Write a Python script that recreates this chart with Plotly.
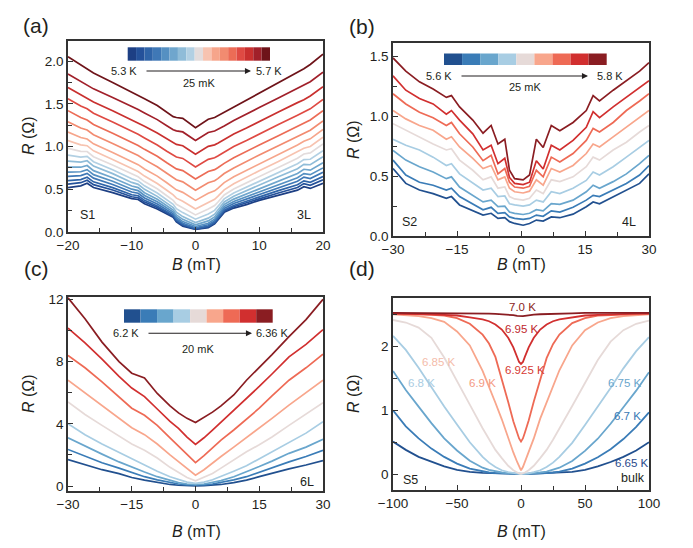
import plotly.graph_objects as go

W, H = 693, 548
FONT = "Liberation Sans, Arial, Helvetica, sans-serif"
INK = "#231f20"
AXC = "#333333"

# ---------------- panel (a) : sample S1, 3L ----------------
B_a = [-20, -18, -17, -16, -13, -10, -9, -8, -6, -4.5, -3.5, -3, -2, 0,
       2, 3, 3.5, 4.5, 6, 8, 10, 13, 16, 17, 18, 20]
T_a = [5.300, 5.325, 5.350, 5.375, 5.400, 5.425, 5.450, 5.475, 5.500,
       5.525, 5.550, 5.575, 5.600, 5.625, 5.650, 5.675, 5.700]
a_5300 = [0.52, 0.54, 0.57, 0.52, 0.46, 0.39, 0.38, 0.33, 0.27, 0.21, 0.172, 0.118, 0.069, 0.03, 0.052, 0.095, 0.138, 0.23, 0.28, 0.32, 0.37, 0.43, 0.49, 0.53, 0.51, 0.57]
a_5325 = [0.56, 0.577, 0.606, 0.554, 0.491, 0.412, 0.401, 0.35, 0.288, 0.225, 0.184, 0.128, 0.078, 0.035, 0.06, 0.105, 0.149, 0.243, 0.295, 0.341, 0.393, 0.457, 0.521, 0.566, 0.546, 0.61]
a_5350 = [0.60, 0.613, 0.641, 0.587, 0.519, 0.436, 0.424, 0.37, 0.304, 0.239, 0.195, 0.139, 0.088, 0.04, 0.069, 0.114, 0.16, 0.256, 0.31, 0.36, 0.415, 0.484, 0.553, 0.599, 0.581, 0.65]
a_5375 = [0.65, 0.66, 0.686, 0.63, 0.556, 0.468, 0.454, 0.398, 0.328, 0.259, 0.212, 0.155, 0.103, 0.05, 0.084, 0.13, 0.176, 0.275, 0.333, 0.385, 0.445, 0.519, 0.594, 0.642, 0.626, 0.70]
a_5400 = [0.70, 0.705, 0.729, 0.671, 0.593, 0.501, 0.484, 0.427, 0.353, 0.281, 0.233, 0.175, 0.122, 0.065, 0.103, 0.15, 0.197, 0.297, 0.357, 0.413, 0.476, 0.555, 0.635, 0.684, 0.671, 0.75]
a_5425 = [0.76, 0.758, 0.778, 0.718, 0.635, 0.538, 0.519, 0.46, 0.383, 0.308, 0.257, 0.20, 0.148, 0.085, 0.13, 0.176, 0.222, 0.322, 0.385, 0.445, 0.513, 0.598, 0.684, 0.734, 0.724, 0.81]
a_5450 = [0.83, 0.818, 0.834, 0.772, 0.683, 0.58, 0.558, 0.499, 0.417, 0.339, 0.286, 0.231, 0.18, 0.11, 0.162, 0.208, 0.253, 0.352, 0.418, 0.483, 0.555, 0.647, 0.74, 0.791, 0.787, 0.88]
a_5475 = [0.90, 0.876, 0.884, 0.822, 0.729, 0.623, 0.598, 0.54, 0.457, 0.377, 0.324, 0.273, 0.227, 0.15, 0.211, 0.253, 0.296, 0.388, 0.457, 0.524, 0.60, 0.699, 0.798, 0.847, 0.851, 0.95]
a_5500 = [0.98, 0.943, 0.942, 0.881, 0.783, 0.675, 0.647, 0.59, 0.505, 0.424, 0.37, 0.325, 0.284, 0.20, 0.27, 0.309, 0.348, 0.434, 0.504, 0.575, 0.654, 0.759, 0.864, 0.913, 0.925, 1.03]
a_5525 = [1.07, 1.019, 1.01, 0.95, 0.849, 0.74, 0.708, 0.654, 0.568, 0.488, 0.434, 0.396, 0.36, 0.27, 0.347, 0.382, 0.416, 0.493, 0.564, 0.636, 0.717, 0.826, 0.935, 0.98, 1.001, 1.11]
a_5550 = [1.17, 1.106, 1.088, 1.032, 0.93, 0.822, 0.788, 0.738, 0.654, 0.576, 0.524, 0.493, 0.464, 0.37, 0.453, 0.482, 0.511, 0.578, 0.646, 0.719, 0.80, 0.91, 1.019, 1.061, 1.09, 1.20]
a_5575 = [1.29, 1.217, 1.193, 1.139, 1.036, 0.93, 0.894, 0.847, 0.764, 0.688, 0.637, 0.611, 0.587, 0.49, 0.576, 0.60, 0.625, 0.684, 0.75, 0.821, 0.901, 1.01, 1.119, 1.157, 1.191, 1.30]
a_5600 = [1.42, 1.339, 1.31, 1.258, 1.155, 1.049, 1.012, 0.967, 0.886, 0.81, 0.76, 0.739, 0.719, 0.62, 0.708, 0.73, 0.752, 0.803, 0.868, 0.939, 1.018, 1.127, 1.237, 1.273, 1.311, 1.42]
a_5625 = [1.56, 1.474, 1.442, 1.39, 1.287, 1.182, 1.144, 1.101, 1.019, 0.946, 0.896, 0.878, 0.861, 0.76, 0.85, 0.869, 0.889, 0.936, 1.0, 1.07, 1.149, 1.258, 1.366, 1.40, 1.441, 1.55]
a_5650 = [1.69, 1.603, 1.568, 1.52, 1.419, 1.316, 1.279, 1.238, 1.159, 1.087, 1.04, 1.025, 1.009, 0.91, 1.002, 1.02, 1.038, 1.082, 1.146, 1.217, 1.295, 1.405, 1.514, 1.547, 1.591, 1.70]
a_5675 = [1.85, 1.759, 1.721, 1.675, 1.573, 1.471, 1.433, 1.393, 1.315, 1.244, 1.197, 1.184, 1.171, 1.07, 1.165, 1.182, 1.199, 1.24, 1.304, 1.376, 1.456, 1.568, 1.68, 1.712, 1.759, 1.87]
a_5700 = [2.05, 1.95, 1.91, 1.86, 1.75, 1.64, 1.60, 1.56, 1.48, 1.40, 1.35, 1.34, 1.33, 1.22, 1.32, 1.34, 1.36, 1.40, 1.47, 1.55, 1.63, 1.75, 1.87, 1.91, 1.96, 2.08]
R_a = [a_5300, a_5325, a_5350, a_5375, a_5400, a_5425, a_5450, a_5475, a_5500,
       a_5525, a_5550, a_5575, a_5600, a_5625, a_5650, a_5675, a_5700]

# ---------------- panel (b) : sample S2, 4L ----------------
B_b = [-30, -27, -23.8, -20.6, -17.5, -16.3, -14.4, -11.3, -8.9, -7, -5.4, -3.8, -2.7, -1.5,
       0.5, 2, 3.6, 5.2, 7.1, 9.1, 12.2, 15.3, 16.9, 18.4, 21.6, 24.7, 27.8, 30]
T_b = [5.600, 5.625, 5.650, 5.675, 5.700, 5.725, 5.750, 5.775, 5.800]
b_5600 = [0.565, 0.44, 0.385, 0.355, 0.315, 0.33, 0.26, 0.215, 0.175, 0.19, 0.147, 0.153, 0.12, 0.105, 0.09, 0.105, 0.133, 0.125, 0.16, 0.153, 0.183, 0.245, 0.285, 0.27, 0.33, 0.385, 0.44, 0.52]
b_5625 = [0.635, 0.51, 0.45, 0.425, 0.385, 0.40, 0.33, 0.27, 0.22, 0.24, 0.19, 0.195, 0.16, 0.147, 0.14, 0.147, 0.175, 0.165, 0.21, 0.20, 0.24, 0.30, 0.34, 0.33, 0.385, 0.44, 0.51, 0.59]
b_5650 = [0.715, 0.635, 0.58, 0.535, 0.48, 0.495, 0.41, 0.34, 0.285, 0.30, 0.245, 0.25, 0.20, 0.19, 0.18, 0.19, 0.22, 0.21, 0.27, 0.265, 0.30, 0.37, 0.425, 0.40, 0.455, 0.52, 0.605, 0.675]
b_5675 = [0.81, 0.76, 0.72, 0.66, 0.59, 0.605, 0.52, 0.44, 0.385, 0.40, 0.33, 0.335, 0.27, 0.26, 0.25, 0.26, 0.30, 0.285, 0.37, 0.355, 0.40, 0.465, 0.535, 0.51, 0.58, 0.66, 0.745, 0.80]
b_5700 = [0.94, 0.885, 0.83, 0.77, 0.72, 0.73, 0.635, 0.55, 0.47, 0.495, 0.40, 0.41, 0.33, 0.31, 0.30, 0.315, 0.385, 0.355, 0.47, 0.455, 0.495, 0.58, 0.66, 0.635, 0.72, 0.785, 0.87, 0.925]
b_5725 = [1.05, 0.98, 0.925, 0.885, 0.81, 0.83, 0.745, 0.65, 0.565, 0.59, 0.47, 0.495, 0.40, 0.37, 0.36, 0.375, 0.47, 0.425, 0.565, 0.535, 0.59, 0.69, 0.77, 0.745, 0.83, 0.91, 0.995, 1.05]
b_5750 = [1.19, 1.105, 1.035, 0.99, 0.925, 0.95, 0.855, 0.745, 0.63, 0.675, 0.52, 0.565, 0.45, 0.41, 0.40, 0.415, 0.55, 0.495, 0.66, 0.62, 0.69, 0.80, 0.90, 0.87, 0.95, 1.05, 1.13, 1.19]
b_5775 = [1.34, 1.22, 1.15, 1.105, 1.02, 1.05, 0.97, 0.855, 0.72, 0.76, 0.605, 0.65, 0.49, 0.44, 0.43, 0.45, 0.63, 0.56, 0.76, 0.72, 0.80, 0.91, 1.04, 0.99, 1.08, 1.16, 1.245, 1.30]
b_5800 = [1.49, 1.38, 1.29, 1.23, 1.16, 1.175, 1.08, 0.97, 0.86, 0.925, 0.77, 0.81, 0.55, 0.48, 0.47, 0.51, 0.81, 0.74, 0.925, 0.88, 0.95, 1.05, 1.175, 1.13, 1.22, 1.30, 1.38, 1.45]
R_b = [b_5600, b_5625, b_5650, b_5675, b_5700, b_5725, b_5750, b_5775, b_5800]

# ---------------- panel (c) : 6L ----------------
B_c = [-30, -26, -22, -18, -15, -12, -9, -6, -4, -2, 0, 2, 4, 6, 9, 12, 15, 18, 22, 26, 30]
T_c = [6.20, 6.22, 6.24, 6.26, 6.28, 6.30, 6.32, 6.34, 6.36]
c_620 = [1.70, 1.35, 1.05, 0.80, 0.55, 0.38, 0.22, 0.10, 0.05, 0.02, 0.0, 0.02, 0.05, 0.10, 0.22, 0.38, 0.60, 0.82, 1.10, 1.35, 1.63]
c_622 = [2.35, 1.90, 1.50, 1.15, 0.85, 0.60, 0.40, 0.22, 0.13, 0.08, 0.06, 0.08, 0.13, 0.22, 0.40, 0.60, 0.90, 1.20, 1.55, 1.90, 2.30]
c_624 = [3.10, 2.55, 2.05, 1.55, 1.20, 0.90, 0.60, 0.35, 0.22, 0.13, 0.10, 0.13, 0.22, 0.35, 0.60, 0.90, 1.25, 1.60, 2.10, 2.50, 3.00]
c_626 = [4.00, 3.30, 2.70, 2.15, 1.75, 1.35, 0.95, 0.60, 0.40, 0.25, 0.17, 0.25, 0.40, 0.60, 0.95, 1.30, 1.75, 2.20, 2.80, 3.40, 4.13]
c_628 = [5.40, 4.60, 3.90, 3.20, 2.70, 2.30, 1.80, 1.20, 0.85, 0.55, 0.34, 0.55, 0.80, 1.15, 1.70, 2.20, 2.65, 3.15, 3.90, 4.60, 5.35]
c_630 = [6.80, 6.00, 5.20, 4.40, 3.75, 3.30, 2.70, 2.00, 1.55, 1.10, 0.70, 1.05, 1.50, 1.90, 2.50, 3.10, 3.70, 4.35, 5.20, 6.00, 6.80]
c_632 = [8.40, 7.60, 6.70, 5.70, 5.00, 4.55, 3.90, 3.10, 2.55, 2.00, 1.50, 1.95, 2.45, 2.95, 3.60, 4.30, 5.00, 5.80, 6.80, 7.60, 8.47]
c_634 = [10.15, 9.20, 8.15, 7.05, 6.30, 5.75, 4.95, 4.15, 3.70, 3.15, 2.67, 3.10, 3.60, 4.10, 4.85, 5.60, 6.40, 7.20, 8.30, 9.10, 10.05]
c_636 = [12.10, 10.75, 9.25, 8.00, 7.25, 6.95, 5.95, 5.15, 4.70, 4.35, 4.08, 4.40, 4.75, 5.15, 5.85, 6.80, 7.60, 8.45, 9.60, 10.70, 12.00]
R_c = [c_620, c_622, c_624, c_626, c_628, c_630, c_632, c_634, c_636]

# ---------------- panel (d) : S5 bulk ----------------
B_d = [-100, -90, -80, -70, -60, -50, -40, -30, -25, -20, -15, -10, -6, -3, -1.5, 0,
       1.5, 3, 6, 10, 15, 20, 25, 30, 40, 50, 60, 70, 80, 90, 100]
T_d = ["6.65 K", "6.7 K", "6.75 K", "6.8 K", "6.85 K", "6.9 K", "6.925 K", "6.95 K", "7.0 K"]
d_665 = [0.51, 0.38, 0.27, 0.19, 0.12, 0.065, 0.035, 0.02, 0.015, 0.01, 0.008, 0.005, 0.003, 0.002, 0.001, 0.0, 0.001, 0.002, 0.003, 0.005, 0.008, 0.012, 0.016, 0.022, 0.035, 0.065, 0.12, 0.19, 0.27, 0.37, 0.50]
d_670 = [1.0, 0.75, 0.56, 0.40, 0.27, 0.165, 0.085, 0.04, 0.025, 0.015, 0.01, 0.006, 0.004, 0.002, 0.001, 0.0, 0.001, 0.002, 0.004, 0.006, 0.01, 0.015, 0.025, 0.04, 0.085, 0.165, 0.265, 0.39, 0.55, 0.74, 0.97]
d_675 = [1.62, 1.32, 1.06, 0.80, 0.56, 0.37, 0.21, 0.10, 0.065, 0.04, 0.025, 0.012, 0.006, 0.003, 0.002, 0.0, 0.002, 0.003, 0.006, 0.012, 0.025, 0.04, 0.065, 0.10, 0.205, 0.365, 0.555, 0.79, 1.05, 1.31, 1.60]
d_680 = [2.17, 1.95, 1.67, 1.36, 1.06, 0.78, 0.50, 0.27, 0.18, 0.11, 0.06, 0.03, 0.012, 0.005, 0.002, 0.0, 0.002, 0.005, 0.012, 0.03, 0.06, 0.11, 0.18, 0.27, 0.49, 0.77, 1.05, 1.35, 1.66, 1.93, 2.15]
d_685 = [2.42, 2.38, 2.30, 2.14, 1.83, 1.45, 1.09, 0.72, 0.55, 0.38, 0.25, 0.13, 0.06, 0.025, 0.01, 0.005, 0.01, 0.025, 0.06, 0.13, 0.25, 0.38, 0.54, 0.71, 1.07, 1.43, 1.79, 2.08, 2.26, 2.36, 2.41]
d_690 = [2.51, 2.50, 2.48, 2.45, 2.39, 2.24, 2.02, 1.62, 1.38, 1.12, 0.86, 0.55, 0.34, 0.19, 0.11, 0.06, 0.11, 0.19, 0.34, 0.56, 0.87, 1.13, 1.39, 1.63, 2.02, 2.26, 2.38, 2.45, 2.48, 2.50, 2.51]
d_6925 = [2.52, 2.52, 2.51, 2.50, 2.49, 2.45, 2.36, 2.19, 2.05, 1.84, 1.50, 1.13, 0.83, 0.65, 0.56, 0.51, 0.56, 0.65, 0.84, 1.14, 1.50, 1.82, 2.04, 2.19, 2.37, 2.45, 2.49, 2.50, 2.51, 2.52, 2.52]
d_695 = [2.52, 2.52, 2.52, 2.51, 2.50, 2.49, 2.46, 2.43, 2.40, 2.35, 2.27, 2.14, 1.99, 1.84, 1.76, 1.73, 1.76, 1.84, 1.99, 2.14, 2.27, 2.35, 2.40, 2.43, 2.46, 2.49, 2.50, 2.51, 2.52, 2.52, 2.52]
d_700 = [2.53, 2.53, 2.53, 2.53, 2.53, 2.53, 2.525, 2.52, 2.52, 2.515, 2.51, 2.505, 2.495, 2.485, 2.48, 2.475, 2.48, 2.485, 2.495, 2.505, 2.51, 2.515, 2.52, 2.52, 2.525, 2.53, 2.53, 2.53, 2.53, 2.53, 2.53]
R_d = [d_665, d_670, d_675, d_680, d_685, d_690, d_6925, d_695, d_700]

# ---------------- colours ----------------
pal9 = ["#21508f", "#3a7cb7", "#69a6cd", "#a8cde3", "#e6dad8",
        "#f8a68c", "#ee6a55", "#d12f2f", "#8a1d22"]
pal17 = ["#1d3f84", "#24519a", "#2f64a8", "#3f78b6", "#5590c2", "#6fa6cd",
         "#8fbcd8", "#b2d0e3", "#e3dcdc", "#f7c3b0", "#f6a58b", "#f28b70",
         "#ec6c56", "#df4a43", "#c9302f", "#a1202a", "#6e1319"]
d_text_colors = ["#2a4a8c", "#3a7ab5", "#6aa6cc", "#a9cce2", "#f4bcaa",
                 "#f49a82", "#d63a33", "#c0282d", "#8b1e22"]


def pxx(x):
    return x / W


def pxy(y):
    return 1 - y / H


fig = go.Figure()

for Tval, R, col in zip(T_a, R_a, pal17):
    fig.add_trace(go.Scatter(x=B_a, y=R, mode="lines", name=f"{Tval} K",
                             line=dict(color=col, width=1.7), xaxis="x", yaxis="y",
                             showlegend=False))
for Tval, R, col in zip(T_b, R_b, pal9):
    fig.add_trace(go.Scatter(x=B_b, y=R, mode="lines", name=f"{Tval} K",
                             line=dict(color=col, width=1.7), xaxis="x2", yaxis="y2",
                             showlegend=False))
for Tval, R, col in zip(T_c, R_c, pal9):
    fig.add_trace(go.Scatter(x=B_c, y=R, mode="lines", name=f"{Tval} K",
                             line=dict(color=col, width=1.7), xaxis="x3", yaxis="y3",
                             showlegend=False))
for Tval, R, col in zip(T_d, R_d, pal9):
    fig.add_trace(go.Scatter(x=B_d, y=R, mode="lines", name=Tval,
                             line=dict(color=col, width=1.8), xaxis="x4", yaxis="y4",
                             showlegend=False))


def axis(domain, anchor, rng, dtick, mdtick, fmt=None):
    d = dict(domain=domain, anchor=anchor, range=rng, showline=True, linecolor=AXC,
             linewidth=1.5, mirror=True, ticks="inside", ticklen=5, tickwidth=1.3,
             tickcolor=AXC, showgrid=False, zeroline=False, tickmode="linear",
             tick0=0, dtick=dtick, automargin=False,
             tickfont=dict(family=FONT, size=13.5, color=INK),
             minor=dict(ticks="inside", ticklen=4, tickwidth=1.3, tickcolor=AXC,
                        tick0=0, dtick=mdtick, showgrid=False))
    if fmt:
        d["tickformat"] = fmt
    return d


xa_dom = [pxx(68), pxx(323)]
xb_dom = [pxx(393), pxx(649)]

fig.update_layout(
    width=W, height=H, margin=dict(l=0, r=0, t=0, b=0, autoexpand=False),
    paper_bgcolor="white", plot_bgcolor="white",
    font=dict(family=FONT, color=INK),
    xaxis=axis(xa_dom, "y", [-20, 20], 10, 5),
    yaxis=axis([pxy(232), pxy(41)], "x", [0, 2.235], 0.5, 0.25, ".1f"),
    xaxis2=axis(xb_dom, "y2", [-30, 30], 15, 7.5),
    yaxis2=axis([pxy(236), pxy(43)], "x2", [0, 1.615], 0.5, 0.25, ".1f"),
    xaxis3=axis(xa_dom, "y3", [-30, 30], 15, 7.5),
    yaxis3=axis([pxy(491), pxy(297)], "x3", [-0.32, 12.15], 4, 2),
    xaxis4=axis(xb_dom, "y4", [-100, 100], 50, 25),
    yaxis4=axis([pxy(490), pxy(298)], "x4", [-0.25, 2.765], 1, 0.5),
)

ann = []
shapes = []


def text(x, y, s, size, color=INK, xanchor="center", angle=0):
    ann.append(dict(x=pxx(x), y=pxy(y), xref="paper", yref="paper", text=s,
                    showarrow=False, xanchor=xanchor, yanchor="middle",
                    textangle=angle, font=dict(family=FONT, size=size, color=color)))


# panel labels
text(36, 25, "(a)", 21)
text(362, 27, "(b)", 21)
text(36, 268, "(c)", 21)
text(362, 268, "(d)", 21)

# axis titles
for (x, y) in [(28, 136), (353, 140), (28, 394), (353, 394)]:
    text(x, y, "<i>R</i> (Ω)", 16, angle=-90)
for (x, y) in [(196, 265), (521, 265), (196, 531), (521, 531)]:
    text(x, y, "<i>B</i> (mT)", 16)

# sample labels
text(87, 215, "S1", 12.5)
text(304, 215, "3L", 12.5)
text(409, 222, "S2", 12.5)
text(629, 222, "4L", 12.5)
text(307, 482, "6L", 12.5)
text(410, 480, "S5", 12.5)
text(633, 478, "bulk", 12.5)


# colour bars with arrows
def colorbar(x0, x1, y0, y1, colors, left, right, step, ay, tl, tr, ax0, ax1, sy):
    n = len(colors)
    w = (x1 - x0) / n
    for i, c in enumerate(colors):
        shapes.append(dict(type="rect", xref="paper", yref="paper",
                           x0=pxx(x0 + i * w), x1=pxx(x0 + (i + 1) * w),
                           y0=pxy(y1), y1=pxy(y0), fillcolor=c,
                           line=dict(width=0), layer="above"))
    text(tl, ay, left, 11, xanchor="right")
    text(tr, ay, right, 11, xanchor="left")
    ann.append(dict(x=pxx(ax1), y=pxy(ay), xref="paper", yref="paper", text="",
                    showarrow=True, ax=-(ax1 - ax0), ay=0, arrowhead=2,
                    arrowsize=1.1, arrowwidth=1.1, arrowcolor=INK))
    text((x0 + x1) / 2, sy, step, 11)


colorbar(127.7, 270, 47.3, 60.7, pal17, "5.3 K", "5.7 K", "25 mK", 71, 139, 254, 145, 251, 83)
colorbar(444, 606.7, 53.5, 65, pal9, "5.6 K", "5.8 K", "25 mK", 76, 454, 595, 460, 588, 87)
colorbar(124, 272.7, 309.3, 322.7, pal9, "6.2 K", "6.36 K", "20 mK", 333.3, 141, 254, 147, 252, 349)

# temperature labels in (d)
d_label_pos = [(632, 463), (627, 416), (625, 383), (422, 383), (439, 362),
               (482, 383), (525, 370), (522, 329), (522, 307)]
for (x, y), s, c in zip(d_label_pos, T_d, d_text_colors):
    text(x, y, s, 11.5, color=c)

fig.update_layout(annotations=ann, shapes=shapes)
fig.write_html("out.html", config={"displayModeBar": False},
               post_script="document.body.style.margin='0';document.body.style.padding='0';")
